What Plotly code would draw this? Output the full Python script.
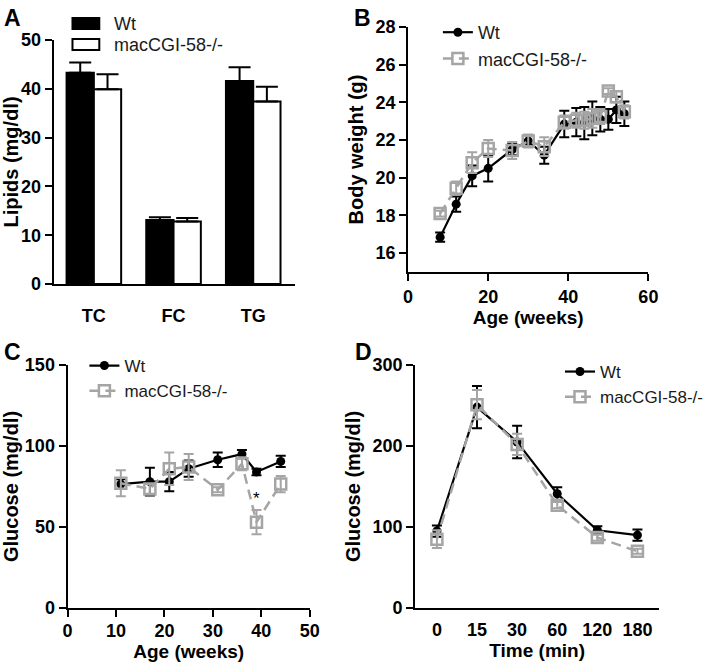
import plotly.graph_objects as go

# ---------------- data ----------------
# Panel A: plasma lipids
lipid_categories = ["TC", "FC", "TG"]
lipid_wt = [43.3, 13.1, 41.6]
lipid_wt_err = [2.1, 0.6, 2.8]
lipid_ko = [39.9, 12.8, 37.4]
lipid_ko_err = [3.1, 0.7, 3.0]

# Panel B: body weight
bw_age = [8, 12, 16, 20, 26, 30, 34, 39, 42, 44, 46, 48, 50, 52, 54]
bw_wt = [16.85, 18.6, 20.1, 20.5, 21.5, 21.95, 21.2, 22.85, 22.95, 22.9, 23.15, 23.1, 23.1, 23.6, 23.4]
bw_wt_err = [0.25, 0.4, 0.55, 0.7, 0.3, 0.3, 0.45, 0.7, 0.75, 0.85, 0.9, 0.65, 0.55, 0.7, 0.65]
bw_ko = [18.1, 19.45, 20.8, 21.55, 21.45, 21.95, 21.65, 22.95, 23.05, 23.05, 23.15, 23.25, 24.6, 24.3, 23.5]
bw_ko_err = [0.15, 0.35, 0.55, 0.45, 0.45, 0.35, 0.5, 0.35, 0.4, 0.45, 0.5, 0.4, 0.15, 0.3, 0.35]

# Panel C: fasting glucose vs age
glu_age = [11, 17, 21, 25, 31, 36, 39, 44]
glu_wt = [76.5, 78, 78, 86, 91.5, 95, 84, 90.5]
glu_wt_err = [3, 8.5, 6, 5, 4.5, 2.5, 2, 3.5]
glu_ko = [77, 73.5, 86, 87, 73, 89, 53, 76.5]
glu_ko_err = [8, 3, 10, 8, 1.5, 4, 7.5, 5]
glu_sig_age = 39

# Panel D: glucose tolerance test
gtt_time = ["0", "15", "30", "60", "120", "180"]
gtt_wt = [95, 248, 205, 141, 96, 90]
gtt_wt_err = [7, 26, 20, 8, 5, 7]
gtt_ko = [85, 251, 202, 127, 87, 70]
gtt_ko_err = [11, 18, 13, 4, 4, 3]

series_names = ["Wt", "macCGI-58-/-"]

# ---------------- styling ----------------
W, H = 708, 665
FONT = "Liberation Sans, Arial, Helvetica, sans-serif"
BLACK = "#000000"
GRAY = "#a5a5a5"
TICKFONT = dict(family=FONT, size=18, color=BLACK, weight="bold")
XTITLEFONT = dict(family=FONT, size=19, color=BLACK, weight="bold")
YTITLEFONT = dict(family=FONT, size=20, color=BLACK, weight="bold")
LEGFONT = dict(family=FONT, size=18, color="#1a1a1a")
LEGFONT_S = dict(family=FONT, size=17, color="#1a1a1a")


def px_x(p):
    return p / W


def px_y(p):
    return 1 - p / H


def axis(**kw):
    d = dict(showline=True, linecolor=BLACK, linewidth=2, ticks="outside",
             ticklen=7, tickwidth=2, tickcolor=BLACK, showgrid=False,
             zeroline=False, tickfont=TICKFONT, automargin=False, mirror=False)
    d.update(kw)
    return d


fig = go.Figure()

# ---- Panel A bars ----
fig.add_trace(go.Bar(
    x=lipid_categories, y=lipid_wt, name=series_names[0], xaxis="x", yaxis="y",
    marker=dict(color=BLACK, line=dict(color=BLACK, width=2)),
    error_y=dict(type="data", symmetric=False, array=lipid_wt_err,
                 arrayminus=[0] * len(lipid_wt), color=BLACK, thickness=2, width=11),
    showlegend=False))
fig.add_trace(go.Bar(
    x=lipid_categories, y=lipid_ko, name=series_names[1], xaxis="x", yaxis="y",
    marker=dict(color="white", line=dict(color=BLACK, width=2)),
    error_y=dict(type="data", symmetric=False, array=lipid_ko_err,
                 arrayminus=[0] * len(lipid_ko), color=BLACK, thickness=2, width=11),
    showlegend=False))


def wt_trace(x, y, err, xa, ya, leg):
    return go.Scatter(
        x=x, y=y, name=series_names[0], xaxis=xa, yaxis=ya, legend=leg,
        mode="lines+markers",
        line=dict(color=BLACK, width=2.2),
        marker=dict(symbol="circle", size=9, color=BLACK),
        error_y=dict(type="data", array=err, color=BLACK, thickness=2, width=5))


def ko_trace(x, y, err, xa, ya, leg):
    return go.Scatter(
        x=x, y=y, name=series_names[1], xaxis=xa, yaxis=ya, legend=leg,
        mode="lines+markers",
        line=dict(color=GRAY, width=2.5, dash="10px,6px"),
        marker=dict(symbol="square-open", size=11, color=GRAY, line=dict(width=2.5, color=GRAY)),
        error_y=dict(type="data", array=err, color=GRAY, thickness=2, width=5))


# ---- Panel B ----
fig.add_trace(wt_trace(bw_age, bw_wt, bw_wt_err, "x2", "y2", "legend"))
fig.add_trace(ko_trace(bw_age, bw_ko, bw_ko_err, "x2", "y2", "legend"))
# ---- Panel C ----
fig.add_trace(wt_trace(glu_age, glu_wt, glu_wt_err, "x3", "y3", "legend2"))
fig.add_trace(ko_trace(glu_age, glu_ko, glu_ko_err, "x3", "y3", "legend2"))
# ---- Panel D ----
fig.add_trace(wt_trace(gtt_time, gtt_wt, gtt_wt_err, "x4", "y4", "legend3"))
fig.add_trace(ko_trace(gtt_time, gtt_ko, gtt_ko_err, "x4", "y4", "legend3"))

legend_common = dict(bgcolor="rgba(0,0,0,0)", borderwidth=0,
                     xanchor="left", yanchor="top", orientation="v", traceorder="normal")

fig.update_layout(
    width=W, height=H, margin=dict(l=0, r=0, t=0, b=0),
    paper_bgcolor="white", plot_bgcolor="white", template="none",
    font=dict(family=FONT, color=BLACK),
    barmode="group", bargap=0.315, bargroupgap=0,
    xaxis=axis(domain=[px_x(54), px_x(297)], anchor="y", type="category",
               range=[-0.505, 2.523], ticks="", ticklabelstandoff=14),
    yaxis=axis(domain=[px_y(284), px_y(40)], anchor="x", range=[0, 50], dtick=10,
               title=dict(text="Lipids (mg/dl)", font=YTITLEFONT, standoff=6)),
    xaxis2=axis(domain=[px_x(411), px_x(653)], anchor="y2", range=[0, 60], dtick=20,
                title=dict(text="Age (weeks)", font=XTITLEFONT, standoff=3)),
    yaxis2=axis(domain=[px_y(272), px_y(27)], anchor="x2", range=[15, 28],
                tickvals=[16, 18, 20, 22, 24, 26, 28],
                title=dict(text="Body weight (g)", font=YTITLEFONT, standoff=6)),
    xaxis3=axis(domain=[px_x(68), px_x(312)], anchor="y3", range=[0, 50], dtick=10,
                ticklabelstandoff=-2,
                title=dict(text="Age (weeks)", font=XTITLEFONT, standoff=5)),
    yaxis3=axis(domain=[px_y(608), px_y(365)], anchor="x3", range=[0, 150], dtick=50,
                title=dict(text="Glucose (mg/dl)", font=YTITLEFONT, standoff=6)),
    xaxis4=axis(domain=[px_x(418), px_x(664)], anchor="y4", type="category",
                range=[-0.545, 5.545], ticks="", ticklabelstandoff=4,
                title=dict(text="Time (min)", font=XTITLEFONT, standoff=4)),
    yaxis4=axis(domain=[px_y(608), px_y(365)], anchor="x4", range=[0, 300], dtick=100,
                title=dict(text="Glucose (mg/dl)", font=YTITLEFONT, standoff=6)),
    legend=dict(x=px_x(477 - 36), y=px_y(14), font=LEGFONT, **legend_common),
    legend2=dict(x=px_x(123 - 38), y=px_y(348), font=LEGFONT_S, **legend_common),
    legend3=dict(x=px_x(600 - 36), y=px_y(354), font=LEGFONT_S, **legend_common),
)

# ---- manual legend for the bar panel ----
for i, (fill, name) in enumerate(zip([BLACK, "white"], series_names)):
    top = 18 + i * 21
    fig.add_shape(type="rect", xref="paper", yref="paper",
                  x0=px_x(73), x1=px_x(100), y0=px_y(top + 11), y1=px_y(top),
                  fillcolor=fill, line=dict(color=BLACK, width=2))
    fig.add_annotation(xref="paper", yref="paper", x=px_x(113), y=px_y(top + 5.5),
                       text=name, showarrow=False, xanchor="left", yanchor="middle",
                       font=LEGFONT)

# ---- panel letters ----
for letter, (lx, ly) in zip("ABCD", [(2, 3), (355, 3), (2, 337), (356, 337)]):
    fig.add_annotation(xref="paper", yref="paper", x=px_x(lx), y=px_y(ly),
                       text=f"<b>{letter}</b>", showarrow=False, xanchor="left",
                       yanchor="top", font=dict(family=FONT, size=23, color=BLACK))

# ---- significance marker ----
si = glu_age.index(glu_sig_age)
fig.add_annotation(x=glu_age[si], y=glu_ko[si] + glu_ko_err[si] + 7, xref="x3", yref="y3",
                   text="*", showarrow=False, yanchor="middle",
                   font=dict(family=FONT, size=17, color=BLACK))

fig.write_html("out.html", config={"displayModeBar": False},
               post_script="document.body.style.margin='0px';document.body.style.overflow='hidden';")
